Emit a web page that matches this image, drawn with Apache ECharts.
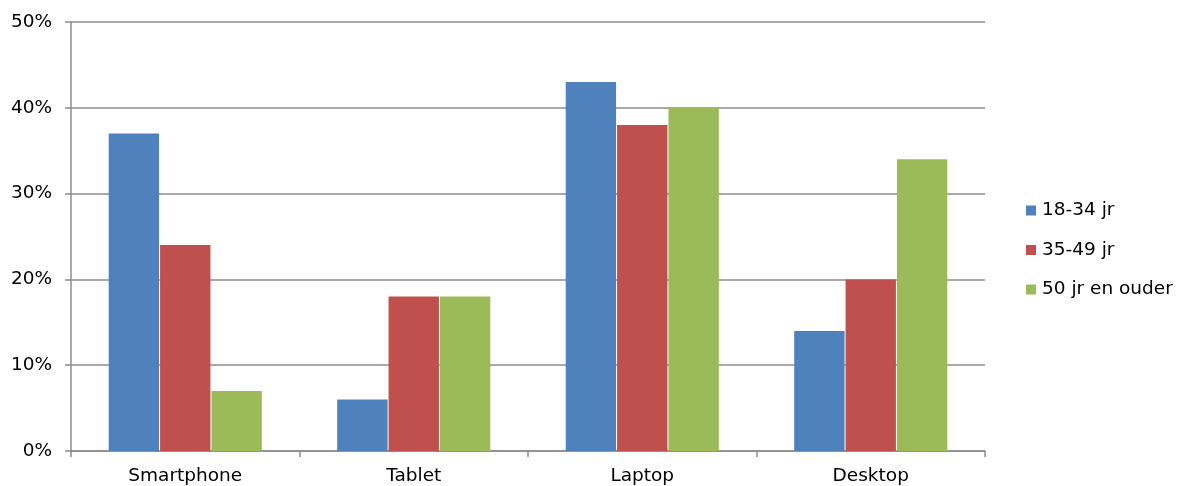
<!DOCTYPE html>
<html>
<head>
<meta charset="utf-8">
<script src="https://cdn.jsdelivr.net/npm/echarts@6/dist/echarts.min.js"></script>
<style>
  html, body { margin: 0; padding: 0; background: #fff; }
  #chart { width: 1177px; height: 486px; }
</style>
</head>
<body>
<div id="chart"></div>
<script>
// apparaten
const categories = ['Smartphone', 'Tablet', 'Laptop', 'Desktop'];
const seriesNames = ['18-34 jr', '35-49 jr', '50 jr en ouder'];
const young = [37, 6, 43, 14];
const middle = [24, 18, 38, 20];
const older = [7, 18, 40, 34];
const colors = ['#4F81BD', '#C0504D', '#9BBB59'];

const font = 'Verdana, "DejaVu Sans", sans-serif';
const chart = echarts.init(document.getElementById('chart'));

function bar(name, data, color) {
  return {
    name: name,
    type: 'bar',
    data: data,
    barGap: '2%',
    barCategoryGap: '33%',
    itemStyle: { color: color }
  };
}

chart.setOption({
  animation: false,
  grid: { left: 71, right: 192, top: 22, bottom: 34 },
  legend: {
    orient: 'vertical',
    left: 1026,
    top: 201,
    padding: 0,
    itemWidth: 10,
    itemHeight: 10,
    itemGap: 20.5,
    icon: 'rect',
    textStyle: { fontFamily: font, fontSize: 18.5, color: '#000', padding: [0, 0, 0, 1] },
    data: seriesNames
  },
  xAxis: {
    type: 'category',
    data: categories,
    axisLine: { lineStyle: { color: '#8c8c8c', width: 1.5 } },
    axisTick: { show: true, length: 6, lineStyle: { color: '#8c8c8c', width: 1.5 } },
    axisLabel: { fontFamily: font, fontSize: 18.5, color: '#000', margin: 16 }
  },
  yAxis: {
    type: 'value',
    min: 0,
    max: 50,
    interval: 10,
    axisLine: { show: true, lineStyle: { color: '#8c8c8c', width: 1.5 } },
    axisTick: { show: true, length: 6, lineStyle: { color: '#8c8c8c', width: 1.5 } },
    splitLine: { lineStyle: { color: '#8c8c8c', width: 1.5 } },
    axisLabel: { fontFamily: font, fontSize: 18.5, color: '#000', margin: 19, formatter: '{value}%' }
  },
  series: [
    bar(seriesNames[0], young, colors[0]),
    bar(seriesNames[1], middle, colors[1]),
    bar(seriesNames[2], older, colors[2])
  ]
});
</script>
</body>
</html>
